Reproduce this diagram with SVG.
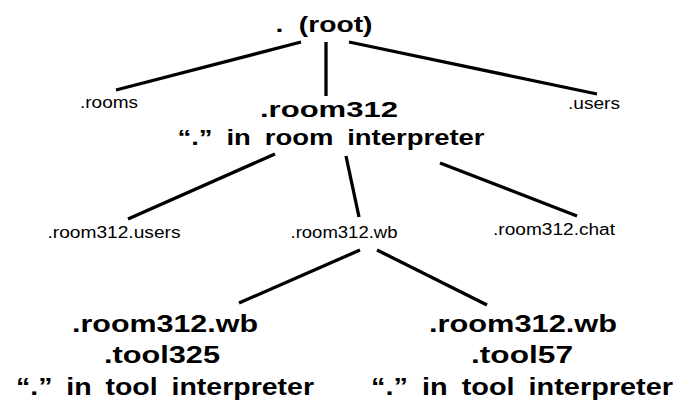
<svg xmlns="http://www.w3.org/2000/svg" width="686" height="403" viewBox="0 0 686 403">
<style>
text{font-family:"Liberation Sans",Arial,Helvetica,sans-serif;fill:#000;text-anchor:middle}
.n{font-size:16px}
.b{font-weight:bold;font-size:22px}
.b2{font-weight:bold;font-size:24px}
.w{word-spacing:5px}
.r{word-spacing:6px}
.e{stroke:#000;stroke-width:3.3;fill:none;stroke-linecap:butt}
</style>
<rect width="686" height="403" fill="#fff"/>
<g id="connectors">
<line class="e" x1="301" y1="42" x2="116" y2="90"/>
<line class="e" x1="326" y1="42" x2="326" y2="96"/>
<line class="e" x1="349" y1="42" x2="597" y2="94"/>
<line class="e" x1="275" y1="154" x2="128" y2="219"/>
<line class="e" x1="346" y1="156" x2="359" y2="217"/>
<line class="e" x1="440" y1="163" x2="577" y2="216"/>
<line class="e" x1="360" y1="250" x2="239" y2="303"/>
<line class="e" x1="377" y1="250" x2="487" y2="305"/>
</g>
<g id="root"><text class="b r" x="324" y="32" textLength="97" lengthAdjust="spacingAndGlyphs">. (root)</text></g>
<g id="rooms"><text class="n" x="109" y="108" textLength="58" lengthAdjust="spacingAndGlyphs">.rooms</text></g>
<g id="users"><text class="n" x="594" y="109" textLength="52" lengthAdjust="spacingAndGlyphs">.users</text></g>
<g id="room312">
<text class="b" x="329" y="117" textLength="138" lengthAdjust="spacingAndGlyphs">.room312</text>
<text class="b w" x="331" y="145" textLength="307" lengthAdjust="spacingAndGlyphs">“.” in room interpreter</text>
</g>
<g id="room312-users"><text class="n" x="114" y="238" textLength="133" lengthAdjust="spacingAndGlyphs">.room312.users</text></g>
<g id="room312-wb"><text class="n" x="344" y="238" textLength="107" lengthAdjust="spacingAndGlyphs">.room312.wb</text></g>
<g id="room312-chat"><text class="n" x="554" y="235" textLength="122" lengthAdjust="spacingAndGlyphs">.room312.chat</text></g>
<g id="tool325">
<text class="b2" x="165" y="332" textLength="186" lengthAdjust="spacingAndGlyphs">.room312.wb</text>
<text class="b2" x="162" y="363" textLength="116" lengthAdjust="spacingAndGlyphs">.tool325</text>
<text class="b2 w" x="165" y="395" textLength="298" lengthAdjust="spacingAndGlyphs">“.” in tool interpreter</text>
</g>
<g id="tool57">
<text class="b2" x="523" y="332" textLength="188" lengthAdjust="spacingAndGlyphs">.room312.wb</text>
<text class="b2" x="522" y="363" textLength="102" lengthAdjust="spacingAndGlyphs">.tool57</text>
<text class="b2 w" x="522" y="395" textLength="302" lengthAdjust="spacingAndGlyphs">“.” in tool interpreter</text>
</g>
</svg>
